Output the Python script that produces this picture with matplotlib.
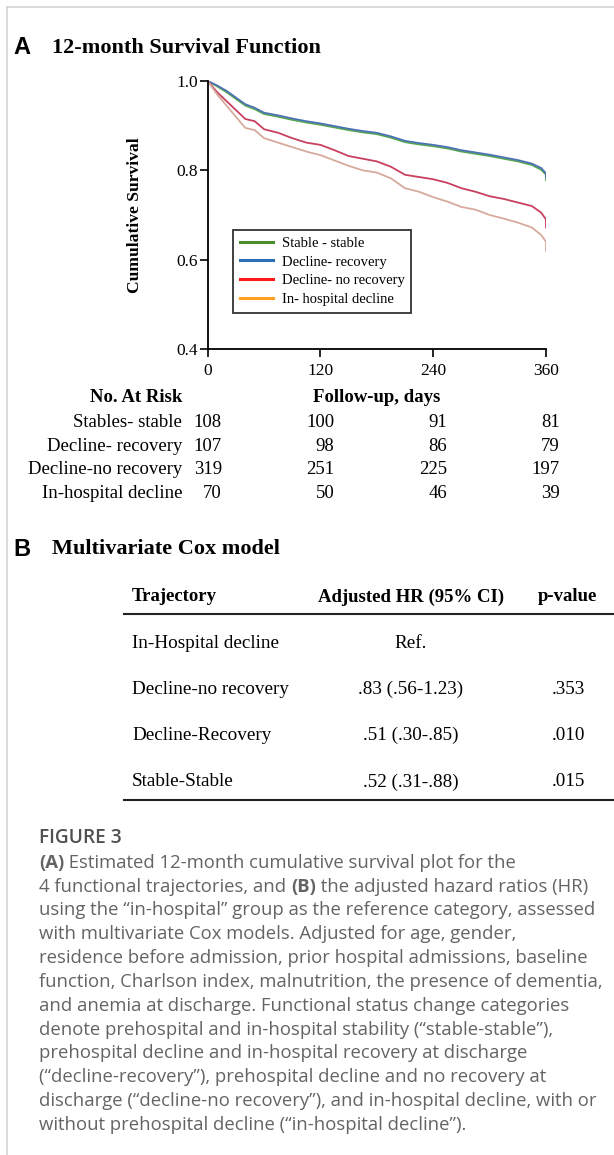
import numpy as np
import matplotlib
matplotlib.use("Agg")
import matplotlib.pyplot as plt
from matplotlib.lines import Line2D
from matplotlib import transforms

W, H = 614, 1155
SERIF = "Liberation Serif"
SANS = "Liberation Sans"
CAPF = "Open Sans"

# --- survival curves ---
days = [0, 10, 20, 30, 40, 50, 60, 75, 90, 105, 120, 135, 150, 165, 180,
        195, 210, 225, 240, 255, 270, 285, 300, 315, 330, 345, 355, 360, 360]
surv_stable = [1.0, 0.988, 0.975, 0.960, 0.945, 0.937, 0.926, 0.920, 0.913, 0.907,
               0.902, 0.896, 0.890, 0.885, 0.881, 0.873, 0.863, 0.858, 0.854, 0.849,
               0.842, 0.837, 0.832, 0.826, 0.820, 0.812, 0.801, 0.790, 0.778]
surv_recov = [1.0, 0.990, 0.978, 0.963, 0.948, 0.940, 0.929, 0.923, 0.916, 0.910,
              0.905, 0.899, 0.893, 0.888, 0.884, 0.876, 0.866, 0.861, 0.857, 0.852,
              0.845, 0.840, 0.835, 0.829, 0.823, 0.815, 0.805, 0.793, 0.785]
surv_norecov = [1.0, 0.975, 0.955, 0.935, 0.915, 0.910, 0.892, 0.884, 0.872, 0.862,
                0.857, 0.845, 0.832, 0.826, 0.820, 0.808, 0.790, 0.785, 0.780, 0.772,
                0.760, 0.752, 0.742, 0.736, 0.728, 0.720, 0.705, 0.690, 0.672]
surv_inhosp = [1.0, 0.970, 0.945, 0.920, 0.895, 0.890, 0.872, 0.862, 0.852, 0.842,
               0.834, 0.822, 0.810, 0.800, 0.795, 0.782, 0.760, 0.752, 0.740, 0.730,
               0.718, 0.712, 0.700, 0.692, 0.683, 0.672, 0.655, 0.640, 0.620]

legend_labels = ["Stable - stable", "Decline- recovery", "Decline- no recovery", "In- hospital decline"]
legend_colors = ["#4a8c2e", "#2e6eb5", "#ff1a1a", "#ffa020"]
curve_colors = ["#55a84e", "#4d72b4", "#c8405e", "#d6aa9c"]

# --- number at risk ---
risk_days = [0, 120, 240, 360]
risk_groups = ["Stables- stable", "Decline- recovery", "Decline-no recovery", "In-hospital decline"]
risk_counts = [[108, 100, 91, 81],
               [107, 98, 86, 79],
               [319, 251, 225, 197],
               [70, 50, 46, 39]]

# --- Cox model table ---
tab_header = ["Trajectory", "Adjusted HR (95% CI)", "p-value"]
tab_traj = ["In-Hospital decline", "Decline-no recovery", "Decline-Recovery", "Stable-Stable"]
tab_hr = ["Ref.", ".83 (.56-1.23)", ".51 (.30-.85)", ".52 (.31-.88)"]
tab_p = ["", ".353", ".010", ".015"]

caption_lines = [
    [("(A)", "bold"), (" Estimated 12-month cumulative survival plot for the", "normal")],
    [("4 functional trajectories, and ", "normal"), ("(B)", "bold"), (" the adjusted hazard ratios (HR)", "normal")],
    [("using the \u201cin-hospital\u201d group as the reference category, assessed", "normal")],
    [("with multivariate Cox models. Adjusted for age, gender,", "normal")],
    [("residence before admission, prior hospital admissions, baseline", "normal")],
    [("function, Charlson index, malnutrition, the presence of dementia,", "normal")],
    [("and anemia at discharge. Functional status change categories", "normal")],
    [("denote prehospital and in-hospital stability (\u201cstable-stable\u201d),", "normal")],
    [("prehospital decline and in-hospital recovery at discharge", "normal")],
    [("(\u201cdecline-recovery\u201d), prehospital decline and no recovery at", "normal")],
    [("discharge (\u201cdecline-no recovery\u201d), and in-hospital decline, with or", "normal")],
    [("without prehospital decline (\u201cin-hospital decline\u201d).", "normal")],
]


def fx(px):
    return px / W


def fy(py):
    return 1 - py / H


fig = plt.figure(figsize=(W / 100, H / 100), dpi=100)
fig.patch.set_facecolor("white")

# outer frame (top and left only)
fig.add_artist(Line2D([fx(7), 1], [fy(7), fy(7)], color="#d4d4d4", lw=1.2))
fig.add_artist(Line2D([fx(7), fx(7)], [fy(7), 0], color="#d4d4d4", lw=1.2))

# ---------------- panel A ----------------
fig.text(fx(13), fy(48), "A", fontsize=17, fontweight="bold", family=SANS, va="center")
fig.text(fx(52), fy(48), "12-month Survival Function", fontsize=16, fontweight="bold",
         family=SERIF, va="center")

ax = fig.add_axes([fx(207.7), fy(349), (546 - 207.7) / W, (349 - 81) / H])
series = [surv_stable, surv_recov, surv_norecov, surv_inhosp]
for s, c in zip(series, curve_colors):
    ax.plot(days, s, color=c, lw=1.3)
ax.set_xlim(0, 360)
ax.set_ylim(0.4, 1.0)
ax.set_xticks([0, 120, 240, 360])
ax.set_yticks([0.4, 0.6, 0.8, 1.0])
ax.set_yticklabels(["0.4", "0.6", "0.8", "1.0"])
for sp in ["top", "right"]:
    ax.spines[sp].set_visible(False)
for sp in ["left", "bottom"]:
    ax.spines[sp].set_linewidth(1.3)
ax.tick_params(length=6, width=1.2, labelsize=12.5, pad=1)
ax.tick_params(axis="x", pad=4)
for lab in ax.get_xticklabels() + ax.get_yticklabels():
    lab.set_family(SERIF)
ax.set_ylabel("Cumulative Survival", family=SERIF, fontsize=12.6, fontweight="bold", labelpad=12)
ax.yaxis.set_label_coords((143 - 207.7) / (546 - 207.7), 0.5)

handles = [Line2D([], [], color=c, lw=2.2) for c in legend_colors]
leg = ax.legend(handles, legend_labels, loc="upper left",
                bbox_to_anchor=((233 - 207.7) / 338.3, (349 - 230) / 268),
                prop={"family": SERIF, "size": 10.5}, frameon=True, fancybox=False,
                edgecolor="black", handlelength=2.3, handletextpad=0.6,
                labelspacing=0.38, borderpad=0.45, borderaxespad=0)
leg.get_frame().set_linewidth(1.3)

# ---------------- number at risk ----------------
fig.text(fx(182), fy(398), "No. At Risk", fontsize=13.5, fontweight="bold", family=SERIF,
         ha="right", va="center")
fig.text(fx(377), fy(398), "Follow-up, days", fontsize=13.5, fontweight="bold", family=SERIF,
         ha="center", va="center")
col_tr = transforms.offset_copy(
    transforms.blended_transform_factory(ax.transData, fig.transFigure),
    fig=fig, x=14, y=0, units="dots")
row_y = [422.5, 446.5, 470, 493.5]
for g, counts, ry in zip(risk_groups, risk_counts, row_y):
    fig.text(fx(182), fy(ry), g, fontsize=13.5, family=SERIF, ha="right", va="center")
    for d, n in zip(risk_days, counts):
        fig.text(d, fy(ry), str(n), fontsize=13.5, family=SERIF, ha="right", va="center",
                 transform=col_tr)

# ---------------- panel B ----------------
fig.text(fx(13), fy(549), "B", fontsize=17, fontweight="bold", family=SANS, va="center")
fig.text(fx(52), fy(549), "Multivariate Cox model", fontsize=16, fontweight="bold",
         family=SERIF, va="center")

col_x = [132, 411, 568]
hy = 597
fig.text(fx(col_x[0]), fy(hy), tab_header[0], fontsize=13.5, fontweight="bold", family=SERIF,
         va="center")
fig.text(fx(col_x[1]), fy(hy), tab_header[1], fontsize=13.5, fontweight="bold", family=SERIF,
         va="center", ha="center")
fig.text(fx(col_x[2]), fy(hy), tab_header[2], fontsize=13.5, fontweight="bold", family=SERIF,
         va="center", ha="center")
fig.add_artist(Line2D([fx(124), 1], [fy(614), fy(614)], color="#222222", lw=1.5))
tab_rows_y = [643, 689, 735, 782]
for t, h, p, ry in zip(tab_traj, tab_hr, tab_p, tab_rows_y):
    fig.text(fx(col_x[0]), fy(ry), t, fontsize=13.8, family=SERIF, va="center")
    fig.text(fx(col_x[1]), fy(ry), h, fontsize=13.8, family=SERIF, va="center", ha="center")
    fig.text(fx(col_x[2]), fy(ry), p, fontsize=13.8, family=SERIF, va="center", ha="center")
fig.add_artist(Line2D([fx(124), 1], [fy(800), fy(800)], color="#222222", lw=1.5))

# ---------------- caption ----------------
cap_col = "#646464"
fig.text(fx(39), fy(838), "FIGURE 3", fontsize=13.8, family=CAPF, color="#505050",
         va="center", fontweight="semibold")
renderer = fig.canvas.get_renderer()
for i, segs in enumerate(caption_lines):
    y = 862.7 + i * 23.85
    xpos = 39.0
    for txt, wt in segs:
        t = fig.text(fx(xpos), fy(y), txt, fontsize=13.3, family=CAPF, color=cap_col,
                     va="center", fontweight=wt)
        bb = t.get_window_extent(renderer=renderer)
        xpos += bb.width

fig.savefig("out.png", dpi=100)
